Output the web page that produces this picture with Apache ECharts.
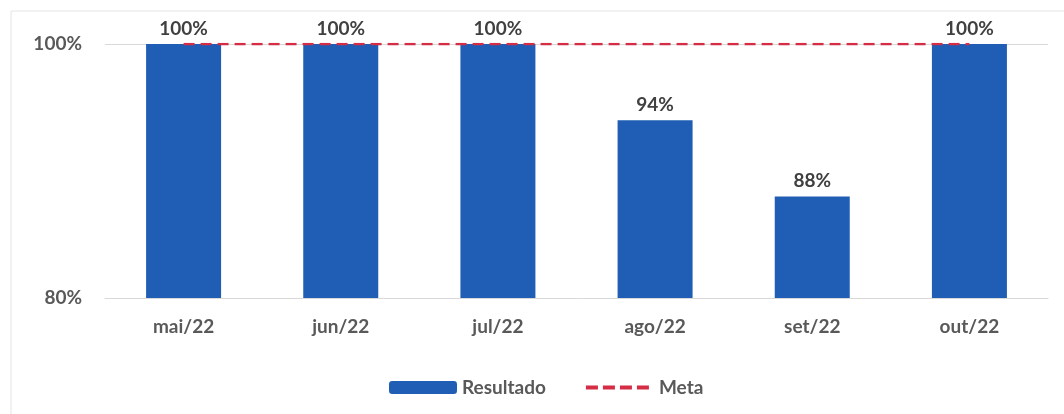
<!DOCTYPE html>
<html>
<head>
<meta charset="utf-8">
<script src="https://cdn.jsdelivr.net/npm/echarts@6/dist/echarts.min.js"></script>
<style>
  html, body { margin: 0; padding: 0; background: #fff; }
  #chart { width: 1064px; height: 414px; }
</style>
</head>
<body>
<div id="chart"></div>
<script>
// data
const months = ['mai/22', 'jun/22', 'jul/22', 'ago/22', 'set/22', 'out/22'];
const resultado = [100, 100, 100, 94, 88, 100];
const meta = [100, 100, 100, 100, 100, 100];

const textColor = '#595959';
const font = 'Lato, "DejaVu Sans", sans-serif';

const chart = echarts.init(document.getElementById('chart'));

chart.setOption({
  animation: false,
  textStyle: { fontFamily: font },
  graphic: [{
    type: 'rect',
    shape: { x: 11, y: 11, width: 1100, height: 500 },
    style: { fill: 'none', stroke: '#e4e4e4', lineWidth: 1 },
    silent: true
  }],
  grid: { left: 105, right: 16, top: 44, bottom: 116 },
  legend: {
    left: 384,
    top: 373,
    itemWidth: 68,
    itemHeight: 13,
    itemGap: 38,
    lineStyle: { width: 4, type: [12, 5] },
    textStyle: { color: textColor, fontSize: 19, fontWeight: 'bold', fontFamily: font },
    data: ['Resultado', 'Meta']
  },
  xAxis: {
    type: 'category',
    data: months,
    axisLine: { lineStyle: { color: '#d9d9d9', width: 1 } },
    axisTick: { show: false },
    axisLabel: { color: textColor, fontSize: 19, fontWeight: 'bold', margin: 19 }
  },
  yAxis: {
    type: 'value',
    min: 80,
    max: 100,
    interval: 20,
    axisLine: { show: false },
    axisTick: { show: false },
    splitLine: { lineStyle: { color: '#d9d9d9' } },
    axisLabel: { color: textColor, fontSize: 19, fontWeight: 'bold', margin: 23, formatter: '{value}%' }
  },
  series: [
    {
      name: 'Resultado',
      type: 'bar',
      data: resultado,
      barWidth: 75,
      itemStyle: { color: '#1f5eb4' },
      label: {
        show: true,
        position: 'top',
        distance: 6,
        color: '#404040',
        fontSize: 19,
        fontWeight: 'bold',
        formatter: '{c}%'
      }
    },
    {
      name: 'Meta',
      type: 'line',
      data: meta,
      symbol: 'none',
      z: 5,
      lineStyle: { color: '#d42d45', width: 2.5, type: [11, 6] },
      itemStyle: { color: 'transparent' }
    }
  ]
});
</script>
</body>
</html>
